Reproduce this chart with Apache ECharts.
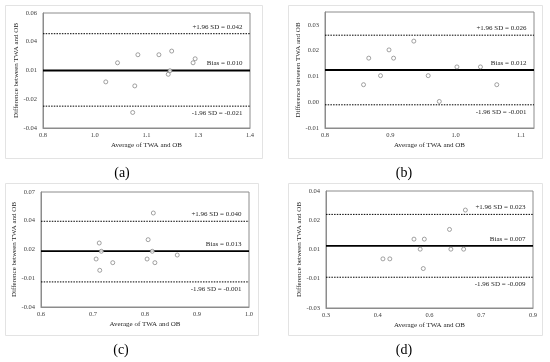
<!DOCTYPE html>
<html>
<head>
<meta charset="utf-8">
<script src="https://cdn.jsdelivr.net/npm/echarts@6/dist/echarts.min.js"></script>
<style>html,body{margin:0;padding:0;background:#fff;}#c{width:550px;height:362px;}</style>
</head>
<body>
<div id="c"></div>
<script>
// ---- Data ----
// Panel (a)
const aX = [0.982, 1.016, 1.075, 1.066, 1.060, 1.136, 1.173, 1.163, 1.168, 1.235, 1.241];
const aY = [0.0001, 0.0167, 0.0237, -0.0034, -0.0265, 0.0237, 0.0269, 0.0067, 0.0098, 0.0167, 0.0202];
const aLimits = [0.042, 0.010, -0.021];
const aLimitText = ['+1.96 SD = 0.042', 'Bias = 0.010', '-1.96 SD = -0.021'];
const aXTickLabels = ['0.8', '1.0', '1.1', '1.3', '1.4'];
const aYTickLabels = ['-0.04', '-0.02', '0.01', '0.04', '0.06'];
// Panel (b)
const bX = [0.859, 0.867, 0.885, 0.898, 0.905, 0.936, 0.958, 0.975, 1.002, 1.038, 1.063];
const bY = [0.0068, 0.0171, 0.0103, 0.0203, 0.0171, 0.0237, 0.0103, 0.0003, 0.0137, 0.0137, 0.0068];
const bLimits = [0.026, 0.0125, -0.001];
const bLimitText = ['+1.96 SD = 0.026', 'Bias = 0.012', '-1.96 SD = -0.001'];
const bXTickLabels = ['0.8', '0.9', '1.0', '1.1'];
const bYTickLabels = ['-0.01', '0.00', '0.01', '0.02', '0.03'];
// Panel (c)
const cX = [0.706, 0.712, 0.716, 0.713, 0.738, 0.804, 0.806, 0.814, 0.816, 0.819, 0.862];
const cY = [0.0059, 0.0212, 0.0133, -0.0049, 0.0024, 0.0059, 0.0244, 0.0133, 0.0499, 0.0024, 0.0097];
const cLimits = [0.042, 0.0135, -0.016];
const cLimitText = ['+1.96 SD = 0.040', 'Bias = 0.013', '-1.96 SD = -0.001'];
const cXTickLabels = ['0.6', '0.7', '0.8', '0.9', '1.0'];
const cYTickLabels = ['-0.04', '-0.01', '0.02', '0.04', '0.07'];
// Panel (d)
const dX = [0.465, 0.485, 0.555, 0.573, 0.585, 0.582, 0.658, 0.662, 0.699, 0.704];
const dY = [-0.0006, -0.0006, 0.0112, 0.0052, 0.0112, -0.0064, 0.017, 0.0052, 0.0052, 0.0286];
const dLimits = [0.026, 0.0072, -0.0116];
const dLimitText = ['+1.96 SD = 0.023', 'Bias = 0.007', '-1.96 SD = -0.009'];
const dXTickLabels = ['0.3', '0.4', '0.6', '0.7', '0.9'];
const dYTickLabels = ['-0.03', '-0.01', '0.01', '0.02', '0.04'];

const panelTags = ['(a)', '(b)', '(c)', '(d)'];
const xTitle = 'Average of TWA and OB';
const yTitle = 'Difference between TWA and OB';

// ---- Layout ----
const FONT = 'Liberation Serif';
const panels = [
  { xs: aX, ys: aY, lim: aLimits, limText: aLimitText, xl: aXTickLabels, yl: aYTickLabels,
    xr: [0.8, 1.4, 0.15], yr: [-0.04, 0.06, 0.025],
    grid: { left: 43, top: 13, width: 207, height: 115 }, frame: [5, 5, 257, 153], tag: [122, 173] },
  { xs: bX, ys: bY, lim: bLimits, limText: bLimitText, xl: bXTickLabels, yl: bYTickLabels,
    xr: [0.8, 1.12, 0.1], yr: [-0.01, 0.035, 0.01],
    grid: { left: 325, top: 12, width: 209, height: 116 }, frame: [288, 5, 254, 153], tag: [404, 173] },
  { xs: cX, ys: cY, lim: cLimits, limText: cLimitText, xl: cXTickLabels, yl: cYTickLabels,
    xr: [0.6, 1.0, 0.1], yr: [-0.04, 0.07, 0.0275],
    grid: { left: 41, top: 192, width: 208, height: 115 }, frame: [5, 183, 253, 152], tag: [121, 350] },
  { xs: dX, ys: dY, lim: dLimits, limText: dLimitText, xl: dXTickLabels, yl: dYTickLabels,
    xr: [0.3, 0.9, 0.15], yr: [-0.03, 0.04, 0.0175],
    grid: { left: 326, top: 191, width: 207, height: 117 }, frame: [288, 183, 254, 152], tag: [404, 350] }
];

function tickValues(r, labels) {
  return labels.map((_, i) => +(r[0] + i * r[2]).toFixed(6));
}
function labelFmt(r, labels) {
  return function (v) {
    const i = Math.round((v - r[0]) / r[2]);
    if (Math.abs(v - (r[0] + i * r[2])) > 1e-7) return '';
    return labels[i] !== undefined ? labels[i] : '';
  };
}

const grids = [], xAxes = [], yAxes = [], series = [], graphics = [];
const lineStyles = [
  { color: '#000', width: 1, type: [1.5, 1.2] },
  { color: '#000', width: 1.8, type: 'solid' },
  { color: '#000', width: 1, type: [1.5, 1.2] }
];
panels.forEach((p, k) => {
  grids.push(Object.assign({ show: true, borderColor: '#8c8c8c', borderWidth: 1, backgroundColor: 'transparent' }, p.grid));
  xAxes.push({
    type: 'value', gridIndex: k, min: p.xr[0], max: p.xr[1],
    name: xTitle, nameLocation: 'middle', nameGap: 14,
    nameTextStyle: { fontFamily: FONT, fontSize: 7, color: '#262626' },
    axisLine: { show: true, onZero: false, lineStyle: { color: '#8c8c8c', width: 1 } },
    axisTick: { show: false }, splitLine: { show: false },
    axisLabel: { fontFamily: FONT, fontSize: 6.5, color: '#404040', margin: 4,
      customValues: tickValues(p.xr, p.xl), formatter: labelFmt(p.xr, p.xl) }
  });
  yAxes.push({
    type: 'value', gridIndex: k, min: p.yr[0], max: p.yr[1],
    name: yTitle, nameLocation: 'middle', nameGap: 17,
    nameTextStyle: { fontFamily: FONT, fontSize: 7, color: '#262626' },
    axisLine: { show: true, onZero: false, lineStyle: { color: '#8c8c8c', width: 1 } },
    axisTick: { show: false }, splitLine: { show: false },
    axisLabel: { fontFamily: FONT, fontSize: 6.5, color: '#404040', margin: 6,
      customValues: tickValues(p.yr, p.yl), formatter: labelFmt(p.yr, p.yl) }
  });
  // limit-of-agreement and bias lines, spanning the x range
  p.lim.forEach((v, i) => {
    const below = i === 2;
    series.push({
      type: 'line', xAxisIndex: k, yAxisIndex: k,
      data: [
        { value: [p.xr[0], v] },
        { value: [p.xr[1], v], label: {
            show: true, formatter: p.limText[i],
            position: below ? [-7, 4] : [-7, -3],
            align: 'right', verticalAlign: below ? 'top' : 'bottom',
            fontFamily: FONT, fontSize: 7, color: '#262626' } }
      ],
      showSymbol: true, symbol: 'circle', symbolSize: 1,
      lineStyle: lineStyles[i], itemStyle: { color: 'rgba(0,0,0,0)', borderWidth: 0 },
      silent: true, z: 3
    });
  });
  series.push({
    type: 'scatter', xAxisIndex: k, yAxisIndex: k,
    data: p.xs.map((x, i) => [x, p.ys[i]]),
    symbol: 'circle', symbolSize: 4,
    itemStyle: { color: '#ffffff', borderColor: '#6e6e6e', borderWidth: 0.8 },
    z: 5
  });
  graphics.push({
    type: 'rect', shape: { x: p.frame[0] + 0.5, y: p.frame[1] + 0.5, width: p.frame[2], height: p.frame[3] },
    style: { fill: 'none', stroke: '#e3e3e3', lineWidth: 1 }, silent: true, z: -1
  });
  graphics.push({
    type: 'text', x: p.tag[0], y: p.tag[1],
    style: { text: panelTags[k], font: '14px "Liberation Serif"', fill: '#000', align: 'center', verticalAlign: 'middle' },
    silent: true
  });
});

const chart = echarts.init(document.getElementById('c'), null, { renderer: 'canvas' });
chart.setOption({
  animation: false,
  backgroundColor: '#ffffff',
  grid: grids, xAxis: xAxes, yAxis: yAxes, series: series, graphic: graphics
});
</script>
</body>
</html>
